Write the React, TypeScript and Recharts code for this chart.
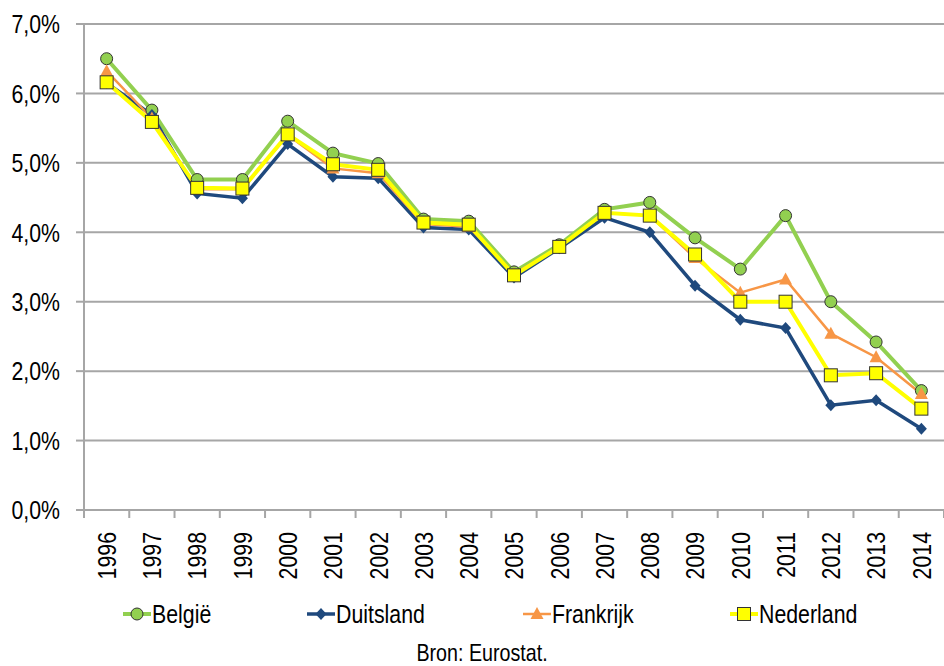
import React from 'react';
import { LineChart, Line, XAxis, YAxis, CartesianGrid, Legend } from 'recharts';

const years = ['1996', '1997', '1998', '1999', '2000', '2001', '2002', '2003', '2004', '2005',
  '2006', '2007', '2008', '2009', '2010', '2011', '2012', '2013', '2014'];

// percentages
const belgie = [6.5, 5.76, 4.76, 4.76, 5.6, 5.14, 4.99, 4.19, 4.16, 3.43, 3.82, 4.33, 4.43, 3.92, 3.47, 4.24, 3.0, 2.42, 1.72];
const duitsland = [6.15, 5.69, 4.56, 4.49, 5.27, 4.8, 4.78, 4.07, 4.04, 3.35, 3.77, 4.21, 4.0, 3.23, 2.74, 2.62, 1.51, 1.58, 1.17];
const frankrijk = [6.32, 5.64, 4.62, 4.62, 5.4, 4.92, 4.85, 4.12, 4.08, 3.4, 3.78, 4.28, 4.24, 3.63, 3.13, 3.32, 2.54, 2.2, 1.67];
const nederland = [6.16, 5.59, 4.64, 4.63, 5.41, 4.98, 4.9, 4.14, 4.11, 3.38, 3.79, 4.28, 4.24, 3.68, 3.0, 3.0, 1.94, 1.97, 1.46];

const yTicks = [0, 1, 2, 3, 4, 5, 6, 7];
const source = 'Bron: Eurostat.';

const data = years.map((year, i) => ({
  year,
  belgie: belgie[i],
  duitsland: duitsland[i],
  frankrijk: frankrijk[i],
  nederland: nederland[i],
}));

// no Arial Narrow available, so squeeze Liberation Sans horizontally
const FONT = "'Liberation Sans', Arial, sans-serif";
const SQUEEZE = 0.82;
const GRID = '#a6a6a6';
const EDGE = '#333333';
const W = 944;
const H = 666;
const LEFT = 84;
const TOP = 24;
const PLOT_BOTTOM = 510;
const BAND = (W - LEFT) / years.length;

const NarrowText = ({ x, y, rotate = 0, anchor = 'start', size = 26, children }: any) => (
  <text
    transform={`translate(${x},${y}) rotate(${rotate}) scale(${SQUEEZE},1)`}
    textAnchor={anchor}
    dominantBaseline="central"
    fontSize={size}
    fontFamily={FONT}
    fill="#000"
  >
    {children}
  </text>
);

const Circle = ({ cx, cy, fill }: any) => (
  <circle cx={cx} cy={cy} r={6} fill={fill} stroke={EDGE} strokeWidth={1} />
);
const Diamond = ({ cx, cy, fill }: any) => (
  <polygon points={`${cx},${cy - 6} ${cx + 5.5},${cy} ${cx},${cy + 6} ${cx - 5.5},${cy}`} fill={fill} />
);
const Triangle = ({ cx, cy, fill }: any) => (
  <polygon points={`${cx},${cy - 7} ${cx + 6.5},${cy + 5} ${cx - 6.5},${cy + 5}`} fill={fill} />
);
const Square = ({ cx, cy, fill }: any) => (
  <rect x={cx - 6.5} y={cy - 6.5} width={13} height={13} fill={fill} stroke={EDGE} strokeWidth={1} />
);

const series = [
  { key: 'belgie', name: 'België', color: '#92D050', width: 4, Marker: Circle, legendX: 123 },
  { key: 'duitsland', name: 'Duitsland', color: '#1F497D', width: 3.5, Marker: Diamond, legendX: 307 },
  { key: 'frankrijk', name: 'Frankrijk', color: '#F79646', width: 2.5, Marker: Triangle, legendX: 523 },
  { key: 'nederland', name: 'Nederland', color: '#FFFF00', width: 4, Marker: Square, legendX: 730 },
];

const fmt = (v: number) => `${v.toFixed(1).replace('.', ',')}%`;

const XTick = (props: any) => {
  const { x, payload, index } = props;
  const left = x - BAND / 2;
  return (
    <g>
      <line x1={left} x2={left} y1={PLOT_BOTTOM} y2={PLOT_BOTTOM + 8} stroke={GRID} strokeWidth={2} />
      {index === years.length - 1 && (
        <line x1={x + BAND / 2} x2={x + BAND / 2} y1={PLOT_BOTTOM} y2={PLOT_BOTTOM + 8} stroke={GRID} strokeWidth={2} />
      )}
      <NarrowText x={x} y={532} rotate={-90} anchor="end">{payload.value}</NarrowText>
    </g>
  );
};

const YTick = (props: any) => {
  const { x, y, payload } = props;
  return <NarrowText x={x} y={y} anchor="end">{fmt(payload.value)}</NarrowText>;
};

const LegendBox = () => (
  <svg width={W} height={76} style={{ display: 'block' }}>
    {series.map((s) => (
      <g key={s.key}>
        <line x1={s.legendX} x2={s.legendX + 28} y1={24} y2={24} stroke={s.color} strokeWidth={s.width} />
        <s.Marker cx={s.legendX + 14} cy={24} fill={s.color} />
        <NarrowText x={s.legendX + 29} y={24}>{s.name}</NarrowText>
      </g>
    ))}
    <NarrowText x={482} y={63} anchor="middle" size={24}>{source}</NarrowText>
  </svg>
);

export default function App() {
  return (
    <div style={{ position: 'absolute', left: 0, top: 0, width: W, height: H, background: '#fff' }}>
      <LineChart width={W} height={H} data={data} margin={{ top: TOP, right: 0, left: 0, bottom: 0 }}>
        <CartesianGrid vertical={false} stroke={GRID} strokeWidth={2} />
        <XAxis
          dataKey="year"
          interval={0}
          padding={{ left: BAND / 2, right: BAND / 2 }}
          height={H - PLOT_BOTTOM}
          axisLine={{ stroke: GRID, strokeWidth: 2 }}
          tickLine={false}
          tick={<XTick />}
        />
        <YAxis
          width={LEFT}
          domain={[0, 7]}
          ticks={yTicks}
          axisLine={{ stroke: GRID, strokeWidth: 2 }}
          tickLine={{ stroke: GRID, strokeWidth: 2 }}
          tickSize={8}
          tickMargin={16}
          tick={<YTick />}
        />
        <Legend
          verticalAlign="middle"
          layout="horizontal"
          wrapperStyle={{ top: 590, left: 0, width: W, height: 76 }}
          content={() => <LegendBox />}
        />
        {series.map((s) => (
          <Line
            key={s.key}
            dataKey={s.key}
            name={s.name}
            type="linear"
            stroke={s.color}
            strokeWidth={s.width}
            isAnimationActive={false}
            dot={(p: any) => <s.Marker key={`${s.key}-${p.index}`} cx={p.cx} cy={p.cy} fill={s.color} />}
            activeDot={false}
          />
        ))}
      </LineChart>
    </div>
  );
}
